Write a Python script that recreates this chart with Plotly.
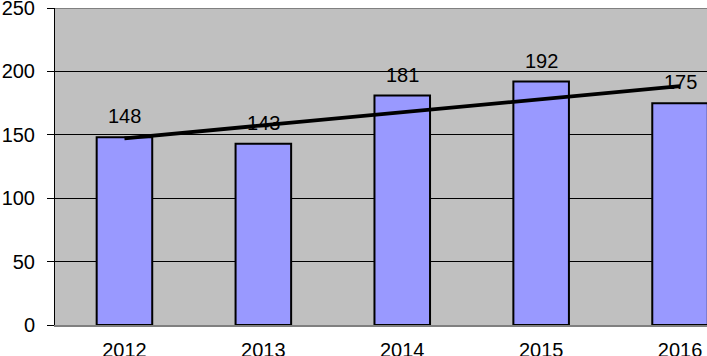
import plotly.graph_objects as go

years = ["2012", "2013", "2014", "2015", "2016"]
values = [148, 143, 181, 192, 175]
trend_years = ["2012", "2016"]
trend_values = [147.2, 188.4]
y_ticks = [0, 50, 100, 150, 200, 250]

FONT = "Liberation Sans, Arial, sans-serif"

fig = go.Figure()
fig.add_trace(go.Bar(
    x=years, y=values, width=0.4,
    marker=dict(color="#9999ff", line=dict(color="black", width=2)),
    showlegend=False, hoverinfo="skip",
))
fig.add_trace(go.Scatter(
    x=trend_years, y=trend_values, mode="lines",
    line=dict(color="black", width=3.8),
    showlegend=False, hoverinfo="skip",
))
for i, v in enumerate(values):
    fig.add_annotation(x=i, y=v, xref="x", yref="y", text=str(v), showarrow=False,
                       yanchor="bottom", yshift=8,
                       font=dict(family=FONT, size=20, color="black"))

fig.add_shape(type="line", xref="paper", yref="y", x0=0, x1=1, y0=250, y1=250,
              line=dict(color="#808080", width=2), layer="above")

fig.update_layout(
    width=707, height=356,
    margin=dict(l=55, r=0, t=8, b=31, autoexpand=False),
    paper_bgcolor="white", plot_bgcolor="#c0c0c0",
    font=dict(family=FONT, size=20, color="black"),
    bargap=0.6,
)
fig.update_xaxes(
    type="category", range=[-0.5, 4.194],
    showline=True, linecolor="#808080", linewidth=2,
    ticks="", tickfont=dict(size=20), showgrid=False,
    ticklabelstandoff=6, automargin=False, ticklabeloverflow="allow",
)
fig.update_yaxes(
    range=[0, 250.05], tickvals=y_ticks,
    showgrid=True, gridcolor="black", gridwidth=1,
    zeroline=False,
    showline=True, linecolor="black", linewidth=1,
    ticks="outside", ticklen=7, tickcolor="black",
    tickfont=dict(size=20), ticklabelstandoff=8, automargin=False,
    ticklabeloverflow="allow",
)
fig.write_html("out.html",
               config={"displayModeBar": False, "staticPlot": True},
               post_script="document.body.style.margin='0';document.body.style.overflow='hidden';")
